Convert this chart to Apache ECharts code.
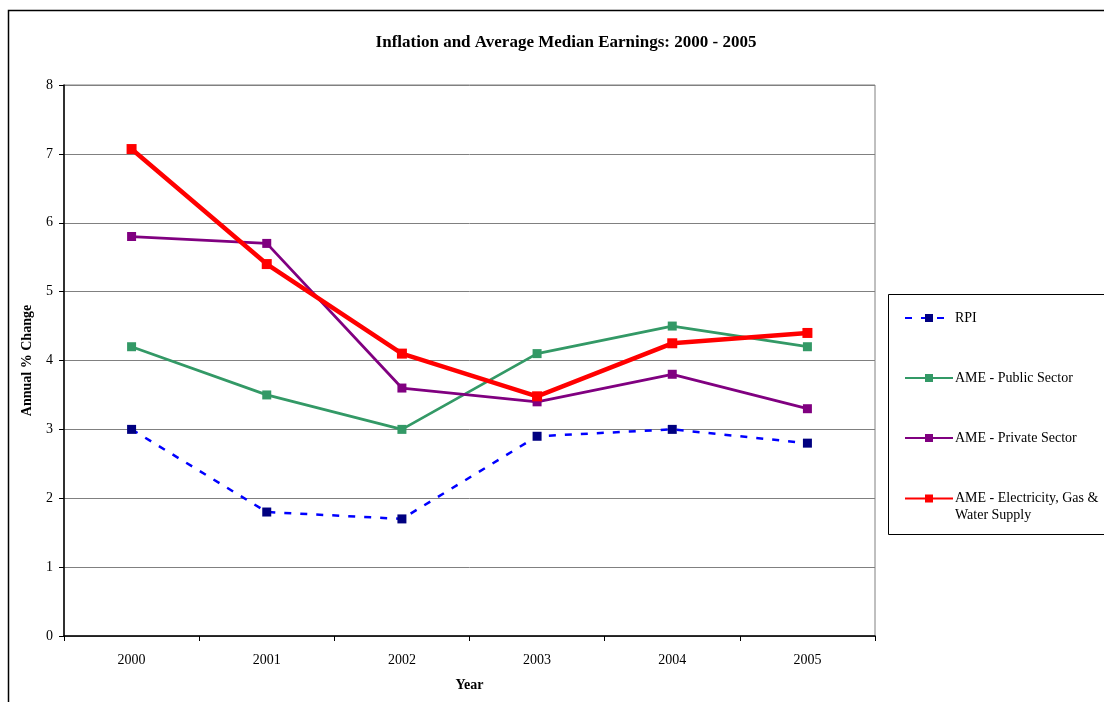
<!DOCTYPE html>
<html>
<head>
<meta charset="utf-8">
<title>Inflation and Average Median Earnings: 2000 - 2005</title>
<script src="https://cdn.jsdelivr.net/npm/echarts@6/dist/echarts.min.js"></script>
<style>
  html, body { margin: 0; padding: 0; background: #fff; }
  #chart { width: 1104px; height: 702px; }
</style>
</head>
<body>
<div id="chart"></div>
<script>
// Years on the category axis
const years = ['2000', '2001', '2002', '2003', '2004', '2005'];

// Annual % change per series
const rpi         = [3.0, 1.8, 1.7, 2.9, 3.0, 2.8];
const publicSect  = [4.2, 3.5, 3.0, 4.1, 4.5, 4.2];
const privateSect = [5.8, 5.7, 3.6, 3.4, 3.8, 3.3];
const utilities   = [7.07, 5.4, 4.1, 3.48, 4.25, 4.4];

// Value-axis ticks
const yTicks = [0, 1, 2, 3, 4, 5, 6, 7, 8];

const names = {
  rpi: 'RPI',
  pub: 'AME - Public Sector',
  priv: 'AME - Private Sector',
  util: 'AME - Electricity, Gas & Water Supply'
};

const FONT = '"Liberation Serif", "DejaVu Serif", serif';

// one legend block per series so each entry sits at its own row
function legendFor(name, top, extra) {
  return Object.assign({
    data: [name],
    left: 904,
    top: top,
    orient: 'vertical',
    itemWidth: 48,
    itemHeight: 10,
    itemGap: 0,
    padding: 0,
    selectedMode: false,
    textStyle: { fontFamily: FONT, fontSize: 14, color: '#000', padding: [0, 0, 0, -3] }
  }, extra || {});
}

const chart = echarts.init(document.getElementById('chart'), null, { renderer: 'canvas' });

chart.setOption({
  animation: false,
  backgroundColor: '#fff',
  textStyle: { fontFamily: FONT },
  title: {
    text: 'Inflation and Average Median Earnings: 2000 - 2005',
    left: 561,
    top: 29,
    textAlign: 'center',
    textStyle: { fontFamily: FONT, fontSize: 17, fontWeight: 'bold', color: '#000' }
  },
  graphic: [
    // outer chart frame
    { type: 'rect', shape: { x: 8.5, y: 10.5, width: 1120, height: 720 },
      style: { fill: 'none', stroke: '#000', lineWidth: 1.5 }, silent: true, z: -1 },
    // legend box
    { type: 'rect', shape: { x: 888.5, y: 294.5, width: 240, height: 240 },
      style: { fill: '#fff', stroke: '#000', lineWidth: 1 }, silent: true, z: -1 }
  ],
  legend: [
    legendFor(names.rpi, 311),
    legendFor(names.pub, 371),
    legendFor(names.priv, 431),
    // blank first line keeps the marker level with the first text line
    legendFor(names.util, 473, {
      formatter: () => '\u00a0\nAME - Electricity, Gas &\nWater Supply',
      textStyle: { fontFamily: FONT, fontSize: 14, color: '#000', lineHeight: 17,
                   padding: [0, 0, 0, -3] }
    })
  ],
  grid: { left: 64, top: 85, right: 229, bottom: 66, show: true,
          borderColor: '#808080', borderWidth: 1 },
  xAxis: {
    type: 'category',
    data: years,
    boundaryGap: true,
    name: 'Year',
    nameLocation: 'middle',
    nameGap: 42,
    nameTextStyle: { fontFamily: FONT, fontSize: 14, fontWeight: 'bold', color: '#000' },
    axisLine: { lineStyle: { color: '#000', width: 1.5 } },
    axisTick: { show: true, length: 5, lineStyle: { color: '#000' } },
    axisLabel: { fontFamily: FONT, fontSize: 14, color: '#000', margin: 17 }
  },
  yAxis: {
    type: 'value',
    min: yTicks[0],
    max: yTicks[yTicks.length - 1],
    interval: 1,
    name: 'Annual % Change',
    nameLocation: 'middle',
    nameGap: 30,
    nameRotate: 90,
    nameTextStyle: { fontFamily: FONT, fontSize: 14, fontWeight: 'bold', color: '#000' },
    axisLine: { show: true, lineStyle: { color: '#000', width: 1.5 } },
    axisTick: { show: true, length: 5, lineStyle: { color: '#000' } },
    axisLabel: { fontFamily: FONT, fontSize: 14, color: '#000', margin: 11 },
    splitLine: { show: true, lineStyle: { color: '#808080', width: 1 } }
  },
  series: [
    {
      name: names.rpi, type: 'line', data: rpi,
      symbol: 'rect', symbolSize: 9,
      lineStyle: { color: '#0000FF', width: 2.5, type: [7, 9] },
      itemStyle: { color: '#000080' },
      z: 3
    },
    {
      name: names.pub, type: 'line', data: publicSect,
      symbol: 'rect', symbolSize: 9,
      lineStyle: { color: '#339966', width: 2.8 },
      itemStyle: { color: '#339966' },
      z: 4
    },
    {
      name: names.priv, type: 'line', data: privateSect,
      symbol: 'rect', symbolSize: 9,
      lineStyle: { color: '#800080', width: 2.8 },
      itemStyle: { color: '#800080' },
      z: 5
    },
    {
      name: names.util, type: 'line', data: utilities,
      symbol: 'rect', symbolSize: 10,
      lineStyle: { color: '#FF0000', width: 4.5 },
      itemStyle: { color: '#FF0000' },
      z: 6
    }
  ]
});
</script>
</body>
</html>
